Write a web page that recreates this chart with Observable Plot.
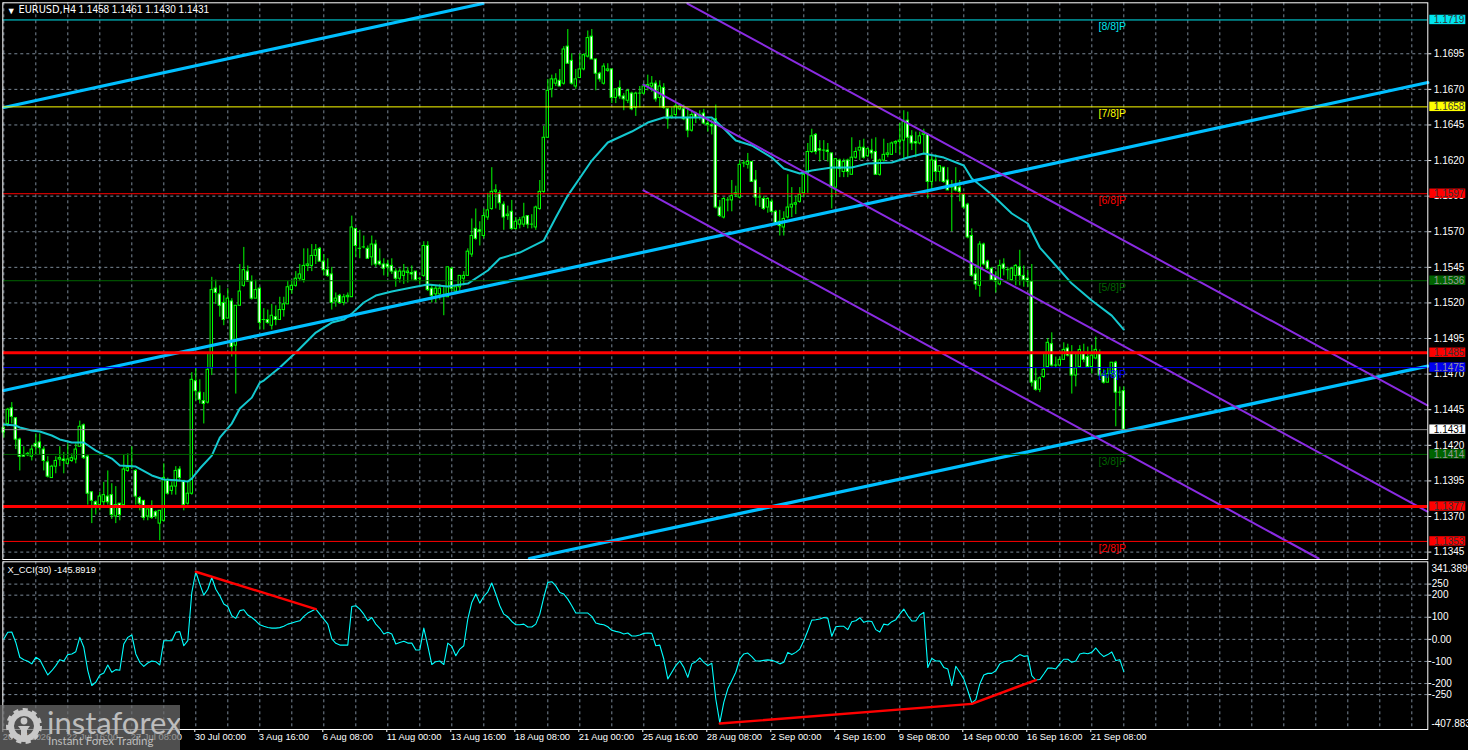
<!DOCTYPE html>
<html><head><meta charset="utf-8">
<script src="https://cdn.jsdelivr.net/npm/d3@7"></script>
<script src="https://cdn.jsdelivr.net/npm/@observablehq/plot@0.6"></script>
<style>
html,body{margin:0;padding:0;background:#000;overflow:hidden}
#wrap{position:relative;width:1468px;height:750px;background:#000}
#wrap svg{display:block}
#wm{position:absolute;left:0;top:705px;width:180px;height:45px;background:rgba(110,110,110,.72);font-family:Lato,"Liberation Sans",sans-serif;color:#bdbdbd;overflow:hidden}
#wm .a{position:absolute;left:47px;top:-1px;font-size:31px;line-height:36px}
#wm .b{position:absolute;left:48px;top:29px;font-size:11.5px;line-height:14px}
#wm svg{position:absolute;left:6px;top:3px}
</style></head><body>
<div id="wrap"></div>
<script>
// Prices are in points: price x 10000
const opens=[11432,11435,11446,11439,11424,11413,11413,11412,11421,11422,
11417,11408,11397,11405,11410,11410,11407,11409,11410,11419,
11434,11412,11387,11380,11378,11380,11384,11385,11370,11379,
11378,11402,11405,11402,11383,11381,11370,11376,11373,11365,
11367,11395,11388,11391,11403,11395,11379,11386,11465,11457,
11451,11450,11474,11530,11526,11520,11509,11521,11490,11518,
11532,11542,11535,11523,11530,11508,11508,11504,11510,11508,
11515,11519,11529,11532,11537,11536,11546,11546,11553,11558,
11549,11543,11540,11521,11525,11520,11524,11524,11572,11558,
11559,11558,11552,11561,11549,11547,11547,11546,11542,11537,
11539,11541,11541,11542,11537,11539,11560,11530,11526,11526,
11525,11524,11544,11528,11531,11537,11539,11554,11572,11571,
11567,11580,11586,11598,11597,11589,11581,11584,11572,11575,
11575,11581,11575,11573,11586,11598,11636,11670,11674,11676,
11674,11700,11690,11672,11678,11684,11693,11707,11691,11681,
11674,11683,11684,11664,11671,11665,11662,11667,11657,11667,
11667,11672,11672,11674,11664,11671,11656,11650,11652,11656,
11656,11650,11641,11653,11652,11653,11646,11645,11649,11587,
11580,11592,11592,11596,11594,11618,11617,11619,11606,11594,
11593,11587,11591,11584,11577,11573,11580,11587,11589,11591,
11597,11611,11626,11638,11628,11627,11627,11625,11601,11620,
11612,11620,11610,11622,11627,11629,11623,11627,11626,11610,
11620,11624,11624,11632,11633,11634,11648,11637,11633,11632,
11638,11638,11605,11620,11612,11615,11606,11601,11602,11601,
11596,11589,11567,11540,11532,11561,11549,11544,11538,11533,
11547,11543,11536,11539,11545,11539,11537,11535,11465,11459,
11468,11475,11491,11476,11476,11480,11488,11484,11469,11475,
11484,11482,11475,11481,11484,11469,11464,11470,11478,11457,11458];
const closes=[11429,11445,11440,11424,11412,11412,11414,11417,11419,11418,
11409,11398,11405,11409,11411,11409,11410,11411,11417,11433,
11411,11386,11381,11378,11384,11385,11380,11371,11378,11371,
11403,11404,11405,11384,11379,11369,11375,11369,11370,11374,
11397,11386,11391,11402,11397,11378,11386,11466,11458,11452,
11449,11473,11529,11527,11518,11508,11523,11489,11518,11528,
11543,11535,11523,11529,11506,11508,11506,11511,11508,11515,
11519,11531,11532,11537,11540,11546,11547,11553,11557,11549,
11543,11539,11520,11523,11520,11524,11525,11573,11560,11558,
11559,11551,11561,11547,11547,11544,11545,11542,11537,11542,
11542,11542,11540,11536,11537,11560,11529,11525,11530,11530,
11525,11545,11530,11531,11539,11539,11556,11567,11565,11570,
11581,11585,11598,11599,11590,11580,11582,11572,11577,11578,
11580,11575,11575,11587,11598,11636,11669,11677,11677,11672,
11698,11688,11674,11677,11684,11694,11706,11691,11681,11677,
11686,11684,11664,11670,11665,11663,11669,11656,11667,11667,
11672,11673,11674,11663,11672,11657,11649,11651,11658,11658,
11649,11641,11652,11650,11651,11646,11645,11644,11587,11581,
11593,11592,11595,11597,11617,11618,11619,11605,11594,11594,
11586,11593,11584,11576,11574,11579,11587,11589,11590,11596,
11610,11626,11637,11626,11627,11627,11626,11601,11621,11614,
11619,11612,11622,11626,11629,11622,11628,11625,11610,11620,
11624,11625,11632,11633,11634,11647,11636,11632,11632,11637,
11639,11605,11620,11612,11616,11605,11599,11601,11599,11598,
11587,11566,11539,11533,11561,11547,11544,11536,11535,11546,
11544,11543,11544,11546,11539,11536,11535,11464,11459,11467,
11473,11492,11476,11476,11480,11487,11483,11469,11474,11487,
11480,11475,11483,11487,11469,11464,11470,11478,11457,11457,11431];
const highs=[11435,11446,11450,11439,11425,11419,11415,11420,11428,11428,
11419,11412,11406,11412,11419,11415,11421,11414,11421,11437,
11435,11413,11387,11381,11387,11394,11402,11393,11391,11379,
11413,11414,11419,11403,11384,11381,11375,11381,11374,11374,
11407,11397,11394,11405,11405,11395,11395,11471,11474,11466,
11457,11484,11538,11536,11532,11525,11530,11523,11518,11547,
11559,11546,11539,11536,11531,11516,11515,11519,11518,11524,
11524,11535,11536,11542,11547,11558,11558,11561,11561,11559,
11554,11551,11545,11527,11526,11526,11527,11581,11572,11571,
11567,11560,11567,11564,11558,11551,11550,11551,11544,11544,
11547,11545,11546,11542,11538,11563,11563,11533,11532,11533,
11531,11545,11545,11531,11539,11542,11558,11579,11586,11577,
11586,11597,11615,11603,11599,11591,11588,11592,11580,11580,
11590,11581,11582,11588,11606,11644,11677,11680,11681,11684,
11700,11712,11695,11684,11695,11695,11711,11712,11691,11682,
11688,11688,11684,11670,11676,11667,11670,11668,11668,11672,
11674,11680,11679,11676,11676,11674,11656,11657,11660,11660,
11659,11657,11655,11654,11655,11656,11650,11649,11659,11592,
11594,11594,11606,11602,11620,11620,11625,11619,11613,11601,
11595,11594,11593,11585,11585,11584,11610,11601,11595,11601,
11611,11632,11642,11639,11634,11634,11632,11625,11621,11621,
11621,11621,11636,11629,11634,11635,11629,11635,11636,11621,
11635,11632,11633,11634,11646,11655,11654,11641,11640,11640,
11642,11639,11624,11624,11616,11615,11615,11606,11615,11606,
11597,11590,11572,11547,11563,11562,11550,11545,11542,11550,
11551,11545,11545,11547,11557,11546,11543,11547,11474,11468,
11484,11495,11499,11482,11482,11492,11491,11490,11484,11490,
11491,11489,11490,11496,11487,11473,11474,11478,11479,11461,11461];
const lows=[11425,11433,11435,11417,11402,11412,11412,11409,11413,11413,
11402,11397,11397,11400,11405,11400,11406,11408,11407,11419,
11410,11378,11365,11371,11374,11377,11378,11368,11365,11367,
11378,11401,11403,11378,11374,11367,11367,11368,11368,11353,
11366,11385,11385,11385,11394,11374,11378,11385,11451,11449,
11435,11449,11469,11519,11510,11504,11509,11482,11456,11518,
11531,11535,11522,11523,11501,11501,11505,11501,11504,11508,
11510,11519,11526,11531,11535,11534,11542,11542,11547,11549,
11539,11538,11515,11517,11519,11518,11520,11524,11552,11551,
11558,11551,11546,11545,11546,11539,11538,11540,11531,11534,
11533,11534,11536,11535,11533,11538,11528,11520,11520,11522,
11511,11524,11528,11526,11528,11532,11539,11552,11564,11560,
11565,11578,11585,11586,11585,11571,11578,11571,11571,11572,
11573,11572,11572,11571,11585,11597,11636,11664,11672,11672,
11673,11688,11673,11670,11678,11683,11692,11691,11669,11675,
11673,11682,11660,11660,11663,11655,11660,11655,11651,11657,
11666,11669,11668,11661,11657,11656,11642,11649,11650,11655,
11648,11636,11640,11646,11648,11645,11640,11638,11586,11580,
11579,11584,11584,11594,11593,11615,11614,11605,11588,11587,
11585,11583,11583,11576,11567,11567,11579,11580,11582,11590,
11594,11597,11625,11624,11619,11620,11619,11586,11595,11608,
11608,11608,11610,11621,11620,11621,11622,11621,11610,11609,
11619,11622,11624,11625,11624,11621,11622,11627,11622,11631,
11624,11593,11599,11605,11605,11604,11599,11570,11598,11591,
11586,11565,11538,11529,11524,11546,11543,11536,11527,11532,
11539,11536,11535,11532,11532,11531,11531,11461,11458,11457,
11467,11474,11475,11474,11475,11480,11482,11456,11461,11474,
11478,11474,11470,11480,11468,11463,11464,11468,11433,11447,11430];
// moving average, read at these bar numbers
const maBars=[0,3,4,7,9,12,14,17,20,23,27,29,33,37,40,44,46,47,49,52,54,57,59,62,64,65,69,73,78,82,85,87,90,93,97,102,106,111,116,121,124,129,131,135,138,141,147,151,157,161,165,170,177,180,183,187,192,195,199,202,207,212,216,222,226,230,235,240,242,247,252,256,259,263,267,272,277,280];
const maValues=[11434.6,11433.9,11432.5,11430.4,11429.7,11426.9,11424.1,11422,11422,11416.3,11410.7,11405.8,11405.1,11398.8,11396,11395.2,11394.6,11396.6,11403.7,11412.8,11425.4,11435.3,11445.8,11453.5,11464,11465.5,11474.6,11485.2,11499.2,11506.2,11508.3,11512.5,11520.3,11525.2,11528,11530.8,11533,11531.5,11533.6,11542.8,11551.2,11555.4,11558.2,11563.8,11580,11595.4,11620,11632.7,11640.4,11646.7,11650.2,11650.2,11650.2,11642.5,11634.1,11630.6,11622.1,11614.4,11610.9,11613,11615.1,11615.1,11617.9,11618.6,11622.1,11624.9,11622.1,11616.5,11607.4,11596.1,11582.8,11575.8,11558.9,11546.3,11533.6,11521.7,11511.1,11501.3];
const cciValues=[2,32,33,-14,-81,-92,-99,-111,-81,-92,-127,-161,-142,-119,-92,-98,-69,-66,-56,9,-36,-142,-209,-194,-161,-152,-116,-149,-137,-140,-21,9,20,-66,-104,-122,-107,-98,-101,-116,-6,-6,-6,32,35,-29,-6,212,306,250,200,227,280,227,197,160,149,107,95,130,134,110,99,84,66,59,54,51,51,53,59,69,74,80,84,104,119,128,137,114,92,69,2,-18,-26,-26,-26,149,152,137,114,84,99,69,50,24,32,24,-21,-14,-9,-17,-17,-48,-48,51,-29,-114,-101,-98,-114,-17,-32,-74,-44,-29,92,167,205,164,194,215,255,205,152,
114,102,81,66,66,69,56,56,69,114,190,258,261,242,212,205,182,152,119,119,119,119,104,74,69,66,57,41,36,32,24,29,15,15,20,27,29,27,-29,-26,-89,-179,-149,-119,-98,-127,-172,-111,-101,-84,-104,-119,-108,-270,-378,-285,-224,-187,-149,-89,-66,-62,-78,-98,-98,-95,-93,-95,-101,-111,-104,-59,-69,-59,-44,-6,39,87,89,92,99,96,14,57,59,59,44,80,84,98,77,83,81,44,33,69,65,80,89,114,137,107,83,83,110,122,-127,-86,-98,-98,-127,-134,-209,-122,-149,-179,-232,
-288,-273,-202,-161,-154,-154,-142,-111,-101,-98,-96,-81,-69,-77,-74,-164,-184,-182,-157,-130,-130,-134,-111,-90,-90,-104,-98,-66,-62,-65,-59,-39,-62,-78,-69,-57,-96,-92,-146];
const priceTicks=d3.range(11345,11696,25);
const cciTicks=[250,200,100,0,-100,-200,-250];
const levelValues=[11718.75,11657.7,11596.7,11535.6,11474.6,11413.6,11352.5];
const levelNames=["[8/8]P","[7/8]P","[6/8]P","[5/8]P","[4/8]P","[3/8]P","[2/8]P"];
const levelTags=["1.1719","1.1658","1.1597","1.1536","1.1475","1.1414","1.1353"];
const pivotValues=[11485,11377];
const pivotTags=["1.1485","1.1377"];
const lastValue=11431, lastTag="1.1431";
const timeBars=d3.range(0,273,16);
const timeLabels=["20 Jul 2026","22 Jul 16:00","27 Jul 08:00","30 Jul 00:00","3 Aug 16:00","6 Aug 08:00","11 Aug 00:00","13 Aug 16:00","18 Aug 08:00","21 Aug 00:00","25 Aug 16:00","28 Aug 08:00","2 Sep 00:00","4 Sep 16:00","9 Sep 08:00","14 Sep 00:00","16 Sep 16:00","21 Sep 08:00"];
// channel lines: bar number, price
const blueLines=[[[0,11657.3],[119.75,11730.3]],[[0,11458.5],[356,11674.8]],[[131.4,11340.5],[356,11475.6]]];
const purpleLines=[[[170.9,11730.3],[355.9,11448]],[[159.9,11673.4],[355.9,11373.5]],[[159.9,11599],[328.7,11340.5]]];
// divergence lines on the CCI: bar number, value
const cciLines=[[[48,306],[78,137]],[[179,-381],[242,-292]],[[242,-292],[258,-184]]];

const FONT='"Liberation Sans",Arial,sans-serif';
const LIME="#00ff00",GRID="#7a8896",BLUE="#00bfff",PURPLE="#8a2be2",MA="#14c8cf";
const levelColor=["#00e5ee","#ffff00","#ff0000","#006400","#0000ee","#006400","#ff0000"];
const levelInk=["#333","#333","#333","#999","#999","#999","#333"];
const bars=closes.map((c,i)=>({i,o:opens[i],h:highs[i],l:lows[i],c}));
const gridBars=d3.range(0,356,8);
const tags=[
 ...levelValues.map((v,k)=>({v,t:levelTags[k],f:levelColor[k],s:levelInk[k]})),
 ...pivotValues.map((v,k)=>({v,t:pivotTags[k],f:"#ff0000",s:"#333"})),
 {v:lastValue,t:lastTag,f:"#ffffff",s:"#000"}];
const lineMarks=(sets,stroke,strokeWidth)=>sets.map(s=>Plot.line(s,{x:d=>d[0],y:d=>d[1],stroke,strokeWidth}));
const base={width:1468,marginLeft:2.3,marginRight:40.7,style:{background:"#000",color:"#fff",fontFamily:FONT,fontSize:"10px",overflow:"visible"},x:{domain:[-0.25,356],axis:null}};

const upperPanel=Plot.plot({...base,height:560,marginTop:2.3,marginBottom:1,
 y:{domain:[11339.8,11730.8],axis:null},
 marks:[
  Plot.ruleX(gridBars,{stroke:GRID,strokeDasharray:"3,3"}),
  Plot.ruleY(priceTicks,{stroke:GRID,strokeDasharray:"3,3"}),
  Plot.ruleX(bars,{x:"i",y1:"l",y2:"h",stroke:LIME}),
  Plot.rect(bars,{x1:d=>d.i-0.3,x2:d=>d.i+0.3,y1:d=>Math.min(d.o,d.c),y2:d=>Math.max(d.o,d.c)+0.01,
    fill:d=>d.c>=d.o?"#000":"#fff",stroke:LIME,strokeWidth:1}),
  Plot.line(maBars.map((b,k)=>[b,maValues[k]]),{x:d=>d[0],y:d=>d[1],stroke:MA,strokeWidth:2}),
  ...lineMarks(blueLines,BLUE,3.2),
  ...lineMarks(purpleLines,PURPLE,2),
  Plot.ruleY(levelValues,{stroke:(d,k)=>levelColor[k],strokeWidth:1}),
  Plot.ruleY([lastValue],{stroke:"#8a8a8a",strokeWidth:1}),
  Plot.ruleY(pivotValues,{stroke:"#ff0000",strokeWidth:3}),
  Plot.text(levelNames,{x:273.7,y:(d,k)=>levelValues[k],dy:7,text:d=>d,textAnchor:"start",fill:(d,k)=>levelColor[k],fontSize:10.5}),
  Plot.axisY(priceTicks,{anchor:"right",tickSize:3,tickPadding:3,tickFormat:d=>(d/1e4).toFixed(4),stroke:"#fff"}),
  Plot.rect(tags,{x1:356.5,x2:365.5,y1:d=>d.v-3.3,y2:d=>d.v+3.3,fill:"f"}),
  Plot.text(tags,{x:357.5,y:"v",text:"t",textAnchor:"start",fill:"s"}),
  Plot.text(["\u25BC"],{frameAnchor:"top-left",dx:4,dy:4.5,text:d=>d,fill:"#fff",fontSize:9}),
  Plot.text(["EURUSD,H4"],{frameAnchor:"top-left",dx:15.7,dy:3.5,text:d=>d,fill:"#fff",fontFamily:"DejaVu Sans",fontSize:9.8}),
  Plot.text(["1.1458 1.1461 1.1430 1.1431"],{frameAnchor:"top-left",dx:75.7,dy:3.5,text:d=>d,fill:"#fff"}),
  Plot.frame({stroke:"#fff"})
 ]});

const lowerPanel=Plot.plot({...base,height:190,marginTop:1.3,marginBottom:21,
 y:{domain:[-408,351],axis:null},
 marks:[
  Plot.ruleX(gridBars,{stroke:GRID,strokeDasharray:"3,3"}),
  Plot.ruleY(cciTicks,{stroke:GRID,strokeDasharray:"3,3"}),
  Plot.line(cciValues.map((v,i)=>[i,v]),{x:d=>d[0],y:d=>d[1],stroke:"#00ffff",strokeWidth:1.1}),
  ...lineMarks(cciLines,"#ff0000",2.4),
  Plot.axisY(cciTicks,{anchor:"right",tickSize:3,tickPadding:1,tickFormat:d=>d===0?"0.00":String(d),stroke:"#fff"}),
  Plot.text(["341.3899"],{x:356.9,y:341.39,dy:5,text:d=>d,textAnchor:"start",fill:"#fff"}),
  Plot.text(["-407.883"],{x:356.9,y:-407.88,dy:-6,text:d=>d,textAnchor:"start",fill:"#fff"}),
  Plot.text(["X_CCI(30) -145.8919"],{frameAnchor:"top-left",dx:4.7,dy:4.5,text:d=>d,fill:"#fff",fontSize:9.3}),
  Plot.axisX(timeBars,{anchor:"bottom",tickSize:3,tickPadding:1,textAnchor:"start",dx:-1,fontSize:9.4,tickFormat:(d,k)=>timeLabels[k],stroke:"#fff"}),
  Plot.frame({stroke:"#fff"})
 ]});

const wrap=document.getElementById("wrap");
wrap.append(upperPanel,lowerPanel);
const wm=document.createElement("div");wm.id="wm";
wm.innerHTML='<svg width="36" height="36" viewBox="0 0 36 36"><circle cx="18" cy="18" r="13" fill="none" stroke="#c8c8c8" stroke-width="6"/><circle cx="18" cy="18" r="16" fill="none" stroke="#c8c8c8" stroke-width="4" stroke-dasharray="5 4.2"/><circle cx="18" cy="13" r="3.4" fill="#c8c8c8"/><path d="M12 18h12l-3 4v9h-6v-9z" fill="#c8c8c8"/></svg><div class="a">instaforex</div><div class="b">Instant Forex Trading</div>';
wrap.append(wm);
</script></body></html>
